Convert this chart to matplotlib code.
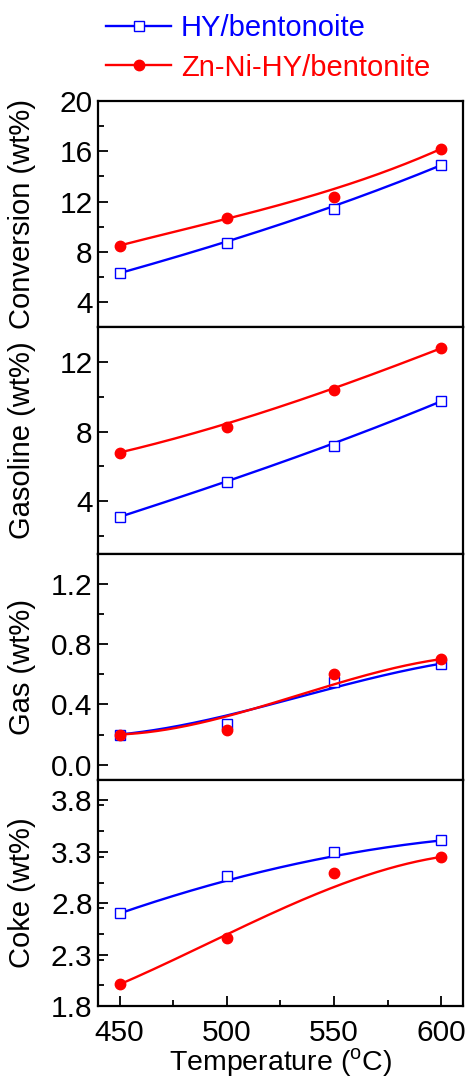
import numpy as np
import matplotlib
matplotlib.use('Agg')
import matplotlib.pyplot as plt
from matplotlib.ticker import MultipleLocator

plt.rcParams['font.family'] = ['Liberation Sans', 'DejaVu Sans']
plt.rcParams['mathtext.fontset'] = 'custom'
plt.rcParams['mathtext.rm'] = 'Liberation Sans'

# Datos
temperatura = [450, 500, 550, 600]

conv_hy = [6.3, 8.7, 11.4, 14.9]
conv_zn = [8.5, 10.7, 12.4, 16.2]

gasolina_hy = [3.1, 5.1, 7.2, 9.75]
gasolina_zn = [6.8, 8.25, 10.4, 12.8]

gas_hy = [0.2, 0.27, 0.55, 0.67]
gas_zn = [0.2, 0.23, 0.6, 0.7]

coque_hy = [2.7, 3.06, 3.3, 3.41]
coque_zn = [2.01, 2.46, 3.09, 3.25]

etiquetas = ['HY/bentonoite', 'Zn-Ni-HY/bentonite']
azul = '#0000FF'
rojo = '#FF0000'

paneles = [
    ('Conversion (wt%)', conv_hy, conv_zn, (2, 20), 2, [4, 8, 12, 16, 20]),
    ('Gasoline (wt%)', gasolina_hy, gasolina_zn, (1, 14), 2, [4, 8, 12]),
    ('Gas (wt%)', gas_hy, gas_zn, (-0.1, 1.4), 0.2, [0.0, 0.4, 0.8, 1.2]),
    ('Coke (wt%)', coque_hy, coque_zn, (1.8, 4.0), 0.25, [1.8, 2.3, 2.8, 3.3, 3.8]),
]


def bezier(x, y, n=200):
    # curva suave (Bezier cúbica con los puntos como control)
    t = np.linspace(0, 1, n)
    x = np.asarray(x, float)
    y = np.asarray(y, float)
    b = np.array([(1 - t) ** 3, 3 * (1 - t) ** 2 * t, 3 * (1 - t) * t ** 2, t ** 3])
    return b.T @ x, b.T @ y


fig, axes = plt.subplots(4, 1, figsize=(4.67, 10.8), dpi=100, sharex=True)
fig.subplots_adjust(left=0.21, right=0.991, top=0.9065, bottom=0.0685, hspace=0)

for ax, (ylabel, hy, zn, ylim, menor, ticks) in zip(axes, paneles):
    xs, ys = bezier(temperatura, hy)
    ax.plot(xs, ys, color=azul, lw=1.7)
    ax.plot(temperatura, hy, ls='none', marker='s', ms=6.5, mfc='white',
            mec=azul, mew=1.0)
    xs, ys = bezier(temperatura, zn)
    ax.plot(xs, ys, color=rojo, lw=1.7)
    ax.plot(temperatura, zn, ls='none', marker='o', ms=7.5, color=rojo)

    ax.set_ylim(*ylim)
    ax.set_yticks(ticks)
    ax.yaxis.set_minor_locator(MultipleLocator(menor))
    ax.set_ylabel(ylabel, fontsize=21)
    ax.yaxis.set_label_coords(-0.17, 0.5)
    ax.tick_params(axis='y', which='major', direction='in', length=7, width=1.3,
                   labelsize=21.5, pad=4)
    ax.tick_params(axis='y', which='minor', direction='in', length=4, width=1.3)
    for s in ax.spines.values():
        s.set_linewidth(1.6)

for ax in axes[:-1]:
    ax.tick_params(axis='x', which='both', length=0)

ax = axes[-1]
ax.set_xlim(440, 610)
ax.set_xticks([450, 500, 550, 600])
ax.xaxis.set_minor_locator(MultipleLocator(25))
ax.tick_params(axis='x', which='major', direction='in', length=7, width=1.3,
               labelsize=21.5, pad=9)
ax.tick_params(axis='x', which='minor', direction='in', length=4, width=1.3)
ax.set_xlabel(r'Temperature ($^\mathregular{o}$C)', fontsize=20.5, labelpad=0)

# Leyenda
h1, = axes[0].plot([], [], color=azul, lw=1.7, marker='s', ms=6.5, mfc='white',
                   mec=azul, mew=1.0)
h2, = axes[0].plot([], [], color=rojo, lw=1.7, marker='o', ms=7.5)
leg = fig.legend([h1, h2], etiquetas, loc='upper left', bbox_to_anchor=(0.228, 0.987),
                 frameon=False, fontsize=21, handlelength=2.2, handletextpad=0.35,
                 labelspacing=0.4, borderpad=0, borderaxespad=0)
for txt, c in zip(leg.get_texts(), [azul, rojo]):
    txt.set_color(c)

plt.savefig('out.png', dpi=100)
